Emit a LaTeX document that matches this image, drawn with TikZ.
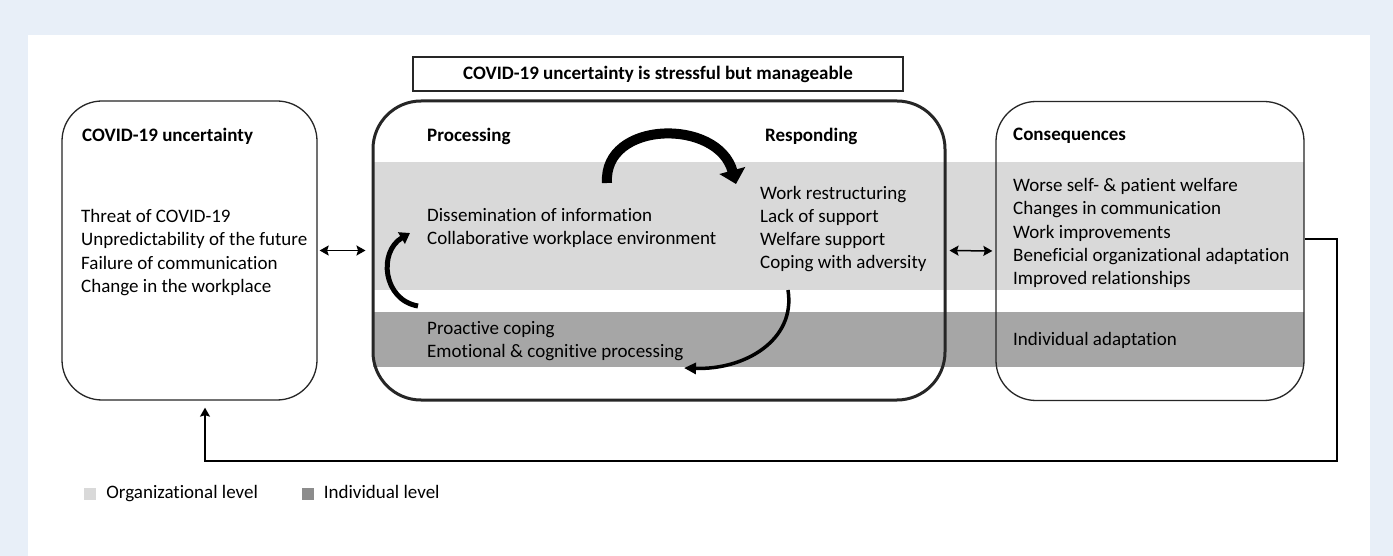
\documentclass[tikz,border=0pt]{standalone}
\usepackage{fontspec}
\setmainfont{Carlito}[Ligatures=NoCommon]
\usepackage{xcolor}
\usetikzlibrary{
    arrows.meta,
    positioning,
    calc
}

\definecolor{pagebg}{HTML}{E8EFF8}
\definecolor{orglevel}{HTML}{D9D9D9}
\definecolor{indlevel}{HTML}{A6A6A6}
\definecolor{indkey}{HTML}{8C8C8C}

\begin{document}
\begin{tikzpicture}[x=1pt, y=-1pt, >={Stealth[length=9pt,width=10pt,inset=1.5pt]},
    every node/.style={font=\fontsize{19}{23.2}\selectfont},
    box/.style={rectangle, draw=black!85, line width=1.3pt, rounded corners=40pt, minimum height=299pt},
    head/.style={anchor=west, inner sep=0pt, font=\fontsize{19}{23.2}\selectfont\bfseries},
    items/.style={anchor=west, inner sep=0pt, align=left},
    keybox/.style={minimum size=12pt, inner sep=0pt},
    keytext/.style={inner sep=0pt, text height=13pt, text depth=4.5pt}]
    % page and bands
    \fill[pagebg] (0,0) rectangle (1393,556);
    \fill[white] (28,35) rectangle (1370,556);
    \fill[orglevel] (373,162) rectangle (1304,290);
    \fill[indlevel] (373,312) rectangle (1304,367);
    % boxes
    \node[box, minimum width=255pt] (unc) at (189.5,250.5) {};
    \node[box, line width=3pt, rounded corners=48pt, minimum width=572pt] (proc) at (659,250.5) {};
    \node[box, minimum width=308pt] (cons) at (1150,251) {};
    \node[draw=black!85, line width=1.2pt, minimum width=490pt, minimum height=34pt,
        font=\fontsize{19}{23.2}\selectfont\bfseries] (title) at (658,74) {COVID-19 uncertainty is stressful but manageable};
    % headings
    \node[head] (unchead) at (82,136) {COVID-19 uncertainty};
    \node[head] (prochead) at (427,136) {Processing};
    \node[head] (resphead) at (765,136) {Responding};
    \node[head] (conshead) at (1013,136) {Consequences};
    % texts
    \node[items] (uncitems) at (81,252.5) {Threat of COVID-19\\Unpredictability of the future\\Failure of communication\\Change in the workplace};
    \node[items] (procorg) at (427,228) {Dissemination of information\\Collaborative workplace environment};
    \node[items] (resporg) at (760,229) {Work restructuring\\Lack of support\\Welfare support\\Coping with adversity};
    \node[items] (procind) at (427,341) {Proactive coping\\Emotional \& cognitive processing};
    \node[items] (consorg) at (1013,233) {Worse self- \& patient welfare\\Changes in communication\\Work improvements\\Beneficial organizational adaptation\\Improved relationships};
    \node[items] (consind) at (1013,340) {Individual adaptation};
    % cycle arrows
    \coordinate (toptail) at (607,183);
    \coordinate (toptip) at (736,184);
    \draw[line width=10pt, -{Triangle[length=14pt,width=26pt]}] (toptail) .. controls (603,120) and (718,118) .. (toptip);
    \coordinate (lefttail) at (418,306);
    \coordinate (lefttip) at (410,233);
    \draw[line width=5pt, -{Triangle[length=10pt,width=13pt]}] (lefttail) .. controls (383,300) and (378,252) .. (lefttip);
    \coordinate (lowtail) at (788,290);
    \coordinate (lowtip) at (684,368);
    \draw[line width=3.5pt, -{Triangle[length=12pt,width=11pt]}] (lowtail) .. controls (796,340) and (745,370) .. (lowtip);
    % connectors
    \draw[<->, line width=1.5pt, shorten <=2pt, shorten >=6pt] (unc.east) -- (proc.west);
    \draw[<->, line width=1.5pt, shorten <=3pt, shorten >=3pt] (proc.east) -- (cons.west);
    \coordinate (fbcorner) at (1337,461);
    \draw[->, line width=1.5pt, shorten >=7pt] ([yshift=12pt]cons.east) -| (fbcorner) -| ([xshift=15.5pt]unc.south);
    % legend
    \node[keybox, fill=orglevel] (orgkey) at (90,494) {};
    \node[keytext, right=10pt of orgkey] (orglabel) {Organizational level};
    \node[keybox, fill=indkey] (indkeybox) at (307.5,494) {};
    \node[keytext, right=10pt of indkeybox] (indlabel) {Individual level};
\end{tikzpicture}
\end{document}
